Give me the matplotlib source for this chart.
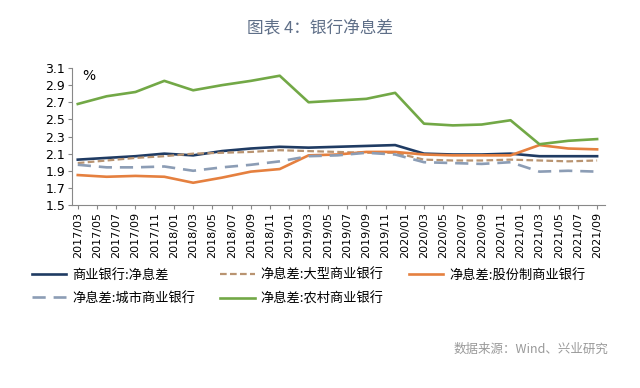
import numpy as np
import matplotlib
matplotlib.use("Agg")
import matplotlib.pyplot as plt

plt.rcParams['font.family'] = ['Noto Sans CJK SC', 'DejaVu Sans']

# quarterly data, 2017Q1 .. 2021Q3
quarters = ["2017/03", "2017/06", "2017/09", "2017/12",
            "2018/03", "2018/06", "2018/09", "2018/12",
            "2019/03", "2019/06", "2019/09", "2019/12",
            "2020/03", "2020/06", "2020/09", "2020/12",
            "2021/03", "2021/06", "2021/09"]

nim_all = [2.03, 2.05, 2.07, 2.10, 2.08, 2.13, 2.16, 2.18, 2.17, 2.18, 2.19, 2.20,
           2.10, 2.09, 2.09, 2.10, 2.07, 2.07, 2.07]
nim_large = [1.99, 2.02, 2.05, 2.07, 2.10, 2.11, 2.12, 2.14, 2.13, 2.12, 2.11, 2.11,
             2.03, 2.02, 2.02, 2.03, 2.02, 2.01, 2.02]
nim_joint = [1.85, 1.83, 1.84, 1.83, 1.76, 1.82, 1.89, 1.92, 2.08, 2.09, 2.12, 2.12,
             2.09, 2.08, 2.08, 2.08, 2.20, 2.16, 2.15]
nim_city = [1.97, 1.94, 1.94, 1.95, 1.90, 1.94, 1.97, 2.01, 2.07, 2.08, 2.11, 2.09,
            2.00, 1.99, 1.98, 2.00, 1.89, 1.90, 1.89]
nim_rural = [2.68, 2.77, 2.82, 2.95, 2.84, 2.90, 2.95, 3.01, 2.70, 2.72, 2.74, 2.81,
             2.45, 2.43, 2.44, 2.49, 2.21, 2.25, 2.27]

labels = ["商业银行:净息差", "净息差:大型商业银行", "净息差:股份制商业银行",
          "净息差:城市商业银行", "净息差:农村商业银行"]


def month_index(s):
    y, m = s.split("/")
    return (int(y) - 2017) * 12 + int(m) - 3


x = np.array([month_index(q) for q in quarters])

tick_labels = []
for i in range(0, 55, 2):
    m = 3 + i
    y = 2017 + (m - 1) // 12
    mm = (m - 1) % 12 + 1
    tick_labels.append(f"{y}/{mm:02d}")

fig = plt.figure(figsize=(6.4, 3.88), dpi=100)
ax = fig.add_axes([0.1125, 0.4716, 0.8325, 0.3531])

l0, = ax.plot(x, nim_all, color="#1f3b63", lw=1.9, label=labels[0])
l1, = ax.plot(x, nim_large, color="#b99471", lw=1.6, ls=(0, (3, 1.5)), label=labels[1])
l2, = ax.plot(x, nim_joint, color="#e5803f", lw=1.9, label=labels[2])
l3, = ax.plot(x, nim_city, color="#8c9db5", lw=1.9, ls=(0, (5, 3)), label=labels[3])
l4, = ax.plot(x, nim_rural, color="#72a846", lw=1.9, label=labels[4])

ax.set_ylim(1.5, 3.1)
ax.set_yticks(np.arange(1.5, 3.11, 0.2))
ax.set_yticklabels([f"{v:.1f}" for v in np.arange(1.5, 3.11, 0.2)],
                   family="DejaVu Sans", fontsize=9)
ax.set_xlim(-0.6, 54.8)
ax.set_xticks(range(0, 55, 2))
ax.set_xticklabels(tick_labels, rotation=90, family="DejaVu Sans", fontsize=8)
ax.tick_params(axis="both", length=3, color="#888888", pad=2)

for s in ["top", "right"]:
    ax.spines[s].set_visible(False)
for s in ["left", "bottom"]:
    ax.spines[s].set_color("#888888")
    ax.spines[s].set_linewidth(0.8)

ax.text(0.02, 0.99, "%", transform=ax.transAxes, fontsize=10,
        family="DejaVu Sans", va="top")

fig.text(0.5, 0.925, "图表 4：银行净息差", ha="center", va="center",
         fontsize=12, color="#5f6f88")

# column-major fill -> reorder so rows read left to right
handles = [l0, l3, l1, l4, l2]
fig.legend(handles, [h.get_label() for h in handles],
           loc="upper left", bbox_to_anchor=(0.042, 0.322), ncol=3,
           frameon=False, fontsize=9.5, handlelength=2.6, columnspacing=1.9,
           handletextpad=0.45, labelspacing=0.8, borderaxespad=0)

fig.text(0.95, 0.1, "数据来源：Wind、兴业研究", ha="right", va="center",
         fontsize=9, color="#999999")

fig.savefig("out.png", dpi=100)
